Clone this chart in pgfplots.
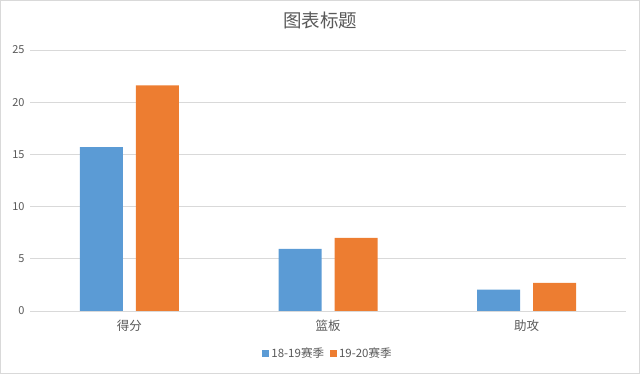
\documentclass[border=0pt]{standalone}
\usepackage{pgfplots}
\pgfplotsset{compat=1.18}
\usepackage{fontspec}
\setmainfont{Noto Sans CJK SC}
\definecolor{sblue}{HTML}{5B9BD5}
\definecolor{sorange}{HTML}{ED7D31}
\definecolor{gridc}{HTML}{D9D9D9}
\definecolor{txt}{HTML}{595959}
\begin{document}
\begin{tikzpicture}
\useasboundingbox (0pt,0pt) rectangle (640pt,374pt);
\draw[gridc] (0.5pt,0.5pt) rectangle (639.5pt,373.5pt);
\node[text=txt, font=\fontsize{18.5}{22}\selectfont] at (320pt,354pt) {图表标题};
\begin{axis}[
  at={(30pt,63pt)}, anchor=south west,
  scale only axis, width=596pt, height=261pt,
  ybar, bar width=43pt,
  ymin=0, ymax=25, ytick={0,5,10,15,20,25},
  xmin=-0.5, xmax=2.5, xtick={0,1,2},
  xticklabels={得分,篮板,助攻},
  axis line style={draw=none},
  ymajorgrids, grid style={gridc, line width=0.8pt},
  major tick style={draw=none},
  tick label style={text=txt},
  yticklabel style={font=\fontsize{11}{13}\selectfont},
  xticklabel style={font=\fontsize{12.5}{15}\selectfont},
  /pgf/number format/assume math mode=true,
  yticklabel shift=2pt,
  xticklabel shift=1pt,
  legend style={at={(0.5,-0.161)}, anchor=center, draw=none, font=\fontsize{11.5}{13}\selectfont, text=txt, legend columns=2, /tikz/every even column/.append style={column sep=4pt}},
  legend image code/.code={\fill[#1] (0pt,-3.5pt) rectangle (7pt,3.5pt);},
]
\addplot[fill=sblue, draw=none, bar shift=-28pt] coordinates {(0,15.7) (1,5.95) (2,2.05)};
\addplot[fill=sorange, draw=none, bar shift=28pt] coordinates {(0,21.6) (1,7.0) (2,2.7)};
\legend{18-19赛季,19-20赛季}
\end{axis}
\end{tikzpicture}
\end{document}
